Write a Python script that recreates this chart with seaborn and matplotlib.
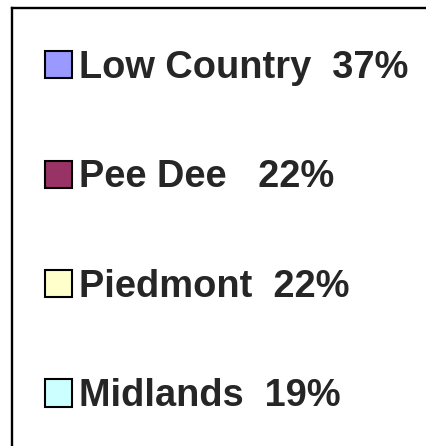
import matplotlib
matplotlib.use("Agg")
import matplotlib.pyplot as plt
from matplotlib.patches import Patch
import seaborn as sns

# Data
regions = ["Low Country", "Pee Dee", "Piedmont", "Midlands"]
shares = [37, 22, 22, 19]
gaps = ["  ", "   ", "  ", "  "]
colors = ["#9999FF", "#993366", "#FFFFCC", "#CCFFFF"]

sns.set_theme(style="white")
plt.rcParams["font.family"] = ["Liberation Sans", "DejaVu Sans"]

W, H = 427, 446
fig = plt.figure(figsize=(W / 100, H / 100), dpi=100)
fig.patch.set_facecolor("white")

# frame (chart area border, extends past right/bottom edges)
ax = fig.add_axes([12 / W, -0.1, 1.0, 1.1 - 8.5 / H])
ax.set_xticks([])
ax.set_yticks([])
for side, sp in ax.spines.items():
    sp.set_visible(side in ("left", "top"))
    sp.set_color("black")
    sp.set_linewidth(1.7)

palette = sns.color_palette(colors)
handles = [Patch(facecolor=c, edgecolor="black", linewidth=1.5) for c in palette]
labels = [f"{r}{g}{s}%" for r, g, s in zip(regions, gaps, shares)]

fs = 27.4
leg = fig.legend(handles, labels, loc="upper left",
                 bbox_to_anchor=(45 / W, 1 - 50 / H), bbox_transform=fig.transFigure,
                 frameon=False, borderpad=0, borderaxespad=0,
                 handlelength=0.70, handleheight=0.72, handletextpad=0.2,
                 labelspacing=1.93,
                 prop={"family": "Liberation Sans", "weight": "bold", "size": fs})

fig.savefig("out.png", dpi=100, facecolor="white")
